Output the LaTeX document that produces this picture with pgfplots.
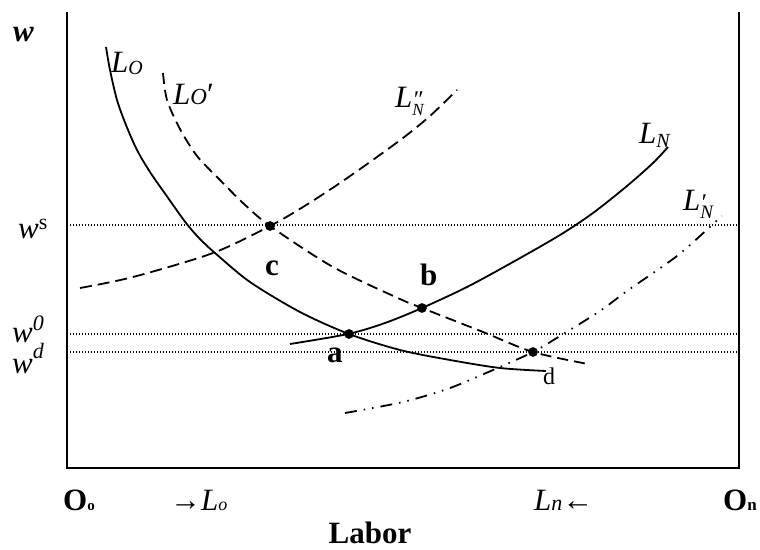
\documentclass[border=0pt]{standalone}
\usepackage{fontspec}
\setmainfont{Liberation Serif}
\usepackage{pgfplots}
\pgfplotsset{compat=1.18}

% font sizes (picture is laid out 1bp = 1 pixel of the 760x550 reference)
\newcommand\fbig{\fontsize{31bp}{36bp}\selectfont}
\newcommand\fsub{\fontsize{20bp}{22bp}\selectfont}
\newcommand\fsup{\fontsize{22bp}{24bp}\selectfont}

\tikzset{lbl/.style={anchor=base west, inner sep=0pt, font=\fbig}}

\begin{document}
\begin{tikzpicture}
  \useasboundingbox (0,0) rectangle (760bp,550bp);
  \begin{axis}[
      at={(0,0)}, anchor=south west,
      x=1bp, y=1bp,
      xmin=0, xmax=760, ymin=0, ymax=550,
      hide axis,
      clip=false,
    ]

    % box: left, bottom and right sides only
    \addplot[black, line width=2bp] coordinates {(67,538) (67,82) (739,82) (739,538)};

    % wage levels w^s, w^0, w^d
    \addplot[black, line width=1.2bp, dash pattern=on 1.2bp off 1.8bp] coordinates {(67,325) (739,325)};
    \addplot[black, line width=1.2bp, dash pattern=on 1.2bp off 1.8bp] coordinates {(67,216) (739,216)};
    \addplot[black, line width=1.2bp, dash pattern=on 1.2bp off 1.8bp] coordinates {(67,198) (739,198)};

    % L_O (solid)
    \addplot[black, line width=1.8bp, smooth] coordinates {
      (106,503) (110,480) (117,450) (126,425) (137,400) (150,378) (166,355)
      (186,327) (200,311) (215,297) (250,268) (300,238) (349,216) (400,200)
      (450,190) (500,182) (546,179)};

    % Lo' (dashed)
    \addplot[black, line width=1.8bp, smooth, dash pattern=on 11bp off 6bp] coordinates {
      (163,477) (167,450) (180,421) (197,394) (220,370) (243,347) (270,324)
      (333,283) (400,251) (422,242) (483,218) (533,198) (588,186)};

    % L_N (solid)
    \addplot[black, line width=1.8bp, smooth] coordinates {
      (290,206) (348,216) (385,227) (422,242) (467,263) (513,288) (560,315)
      (593,337) (627,364) (653,387) (668,403)};

    % L_N'' (dashed)
    \addplot[black, line width=1.8bp, smooth, dash pattern=on 12bp off 6bp] coordinates {
      (80,262) (133,273) (213,297) (270,324) (303,343) (337,365) (370,388)
      (403,412) (430,434) (457,460)};

    % L_N' (dash dot dot)
    \addplot[black, line width=1.8bp, smooth,
      dash pattern=on 12bp off 7bp on 1.5bp off 7bp on 1.5bp off 7bp] coordinates {
      (345,137) (403,148) (450,162) (493,180) (533,198) (560,214) (600,239)
      (627,259) (677,294) (712,325) (722,334)};

    % equilibrium points a, b, c, d
    \addplot[only marks, mark=*, mark size=4.6bp, black] coordinates {
      (270,324) (349,216) (422,242) (533,198)};

    % axis labels
    \node[lbl] at (axis cs:13,508) {\textbf{\textit{w}}};
    \node[lbl] at (axis cs:18,312) {\textit{w}\raisebox{9bp}{\fsup s}};
    \node[lbl] at (axis cs:12,208) {\textit{w\raisebox{12bp}{\fsup 0}}};
    \node[lbl] at (axis cs:12,177) {\textit{w\raisebox{15bp}{\fsup d}}};

    % curve labels
    \node[lbl] at (axis cs:111,477) {\textit{L\raisebox{-2bp}{\fsub O}}};
    \node[lbl] at (axis cs:173,445) {\textit{L{\fontsize{23bp}{24bp}\selectfont O}}′};
    \node[lbl] at (axis cs:395,442)
      {\textit{L}\rlap{\textit{\fontsize{24bp}{26bp}\selectfont ″}}\raisebox{-8bp}{\fontsize{17bp}{18bp}\selectfont\textit{N}}};
    \node[lbl] at (axis cs:639,406) {\textit{L\raisebox{-4bp}{\fsub N}}};
    \node[lbl] at (axis cs:683,340)
      {\textit{L}\rlap{\textit{\fontsize{24bp}{26bp}\selectfont ′}}\raisebox{-8bp}{\fontsize{19bp}{20bp}\selectfont\textit{N}}};

    % point labels
    \node[lbl] at (axis cs:265,275) {\textbf{c}};
    \node[lbl] at (axis cs:420,265) {\textbf{b}};
    \node[lbl] at (axis cs:327,188) {\textbf{a}};
    \node[lbl] at (axis cs:543,166) {\fontsize{24bp}{26bp}\selectfont d};

    % bottom labels
    \node[lbl] at (axis cs:63,40) {\textbf{O{\fontsize{15bp}{16bp}\selectfont o}}};
    \node[lbl] at (axis cs:170,40) {→\textit{L{\fontsize{18bp}{20bp}\selectfont o}}};
    \node[lbl] at (axis cs:534,40) {\textit{L{\fontsize{22bp}{24bp}\selectfont n}}←};
    \node[lbl] at (axis cs:723,40) {\textbf{O{\fontsize{17bp}{18bp}\selectfont n}}};
    \node[lbl, anchor=base] at (axis cs:370,7) {\textbf{Labor}};
  \end{axis}
\end{tikzpicture}
\end{document}
